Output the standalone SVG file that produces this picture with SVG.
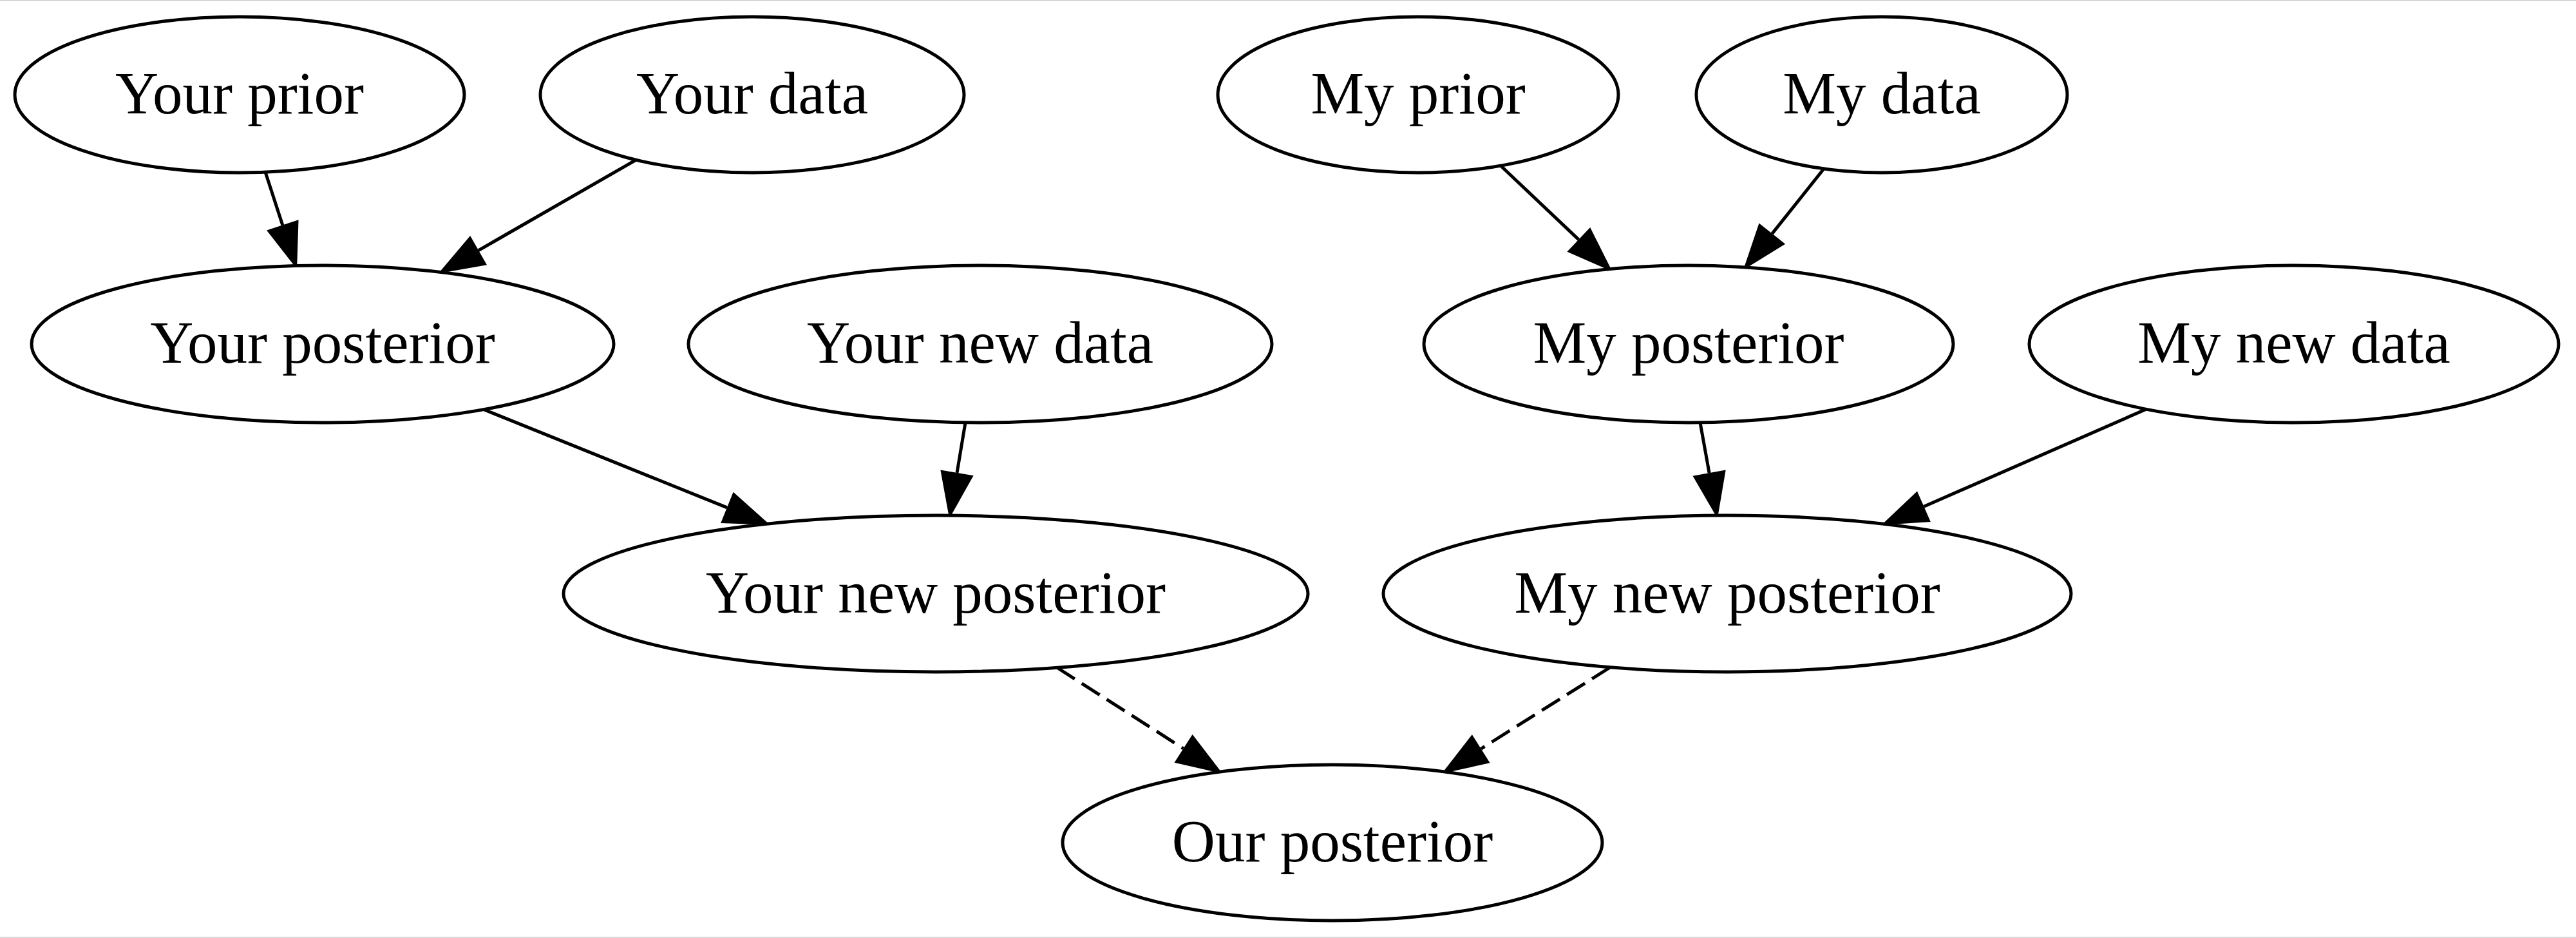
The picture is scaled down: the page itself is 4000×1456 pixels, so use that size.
<svg xmlns="http://www.w3.org/2000/svg" width="4000" height="1456" viewBox="0 0 4000 1456">
<style>
.node ellipse{fill:#fff;stroke:#000;stroke-width:5}
.node text{font-family:"Liberation Serif","Times New Roman",serif;font-size:93px;fill:#000;text-anchor:middle}
.edge{fill:none;stroke:#000;stroke-width:5}
.dashed{stroke-dasharray:33 13}
</style>
<defs>
<marker id="arrow" markerUnits="userSpaceOnUse" orient="auto" refX="0" refY="0" markerWidth="80" markerHeight="60" overflow="visible">
<polygon points="0,-26 72,0 0,26" fill="#000"/>
</marker>
</defs>
<rect x="0" y="0" width="4000" height="1456" fill="#fff"/>
<line x1="0" y1="0.5" x2="4000" y2="0.5" stroke="#cccccc" stroke-width="1.5"/>
<line x1="0" y1="1455" x2="4000" y2="1455" stroke="#cccccc" stroke-width="1.5"/>
<g id="edges">
<path class="edge" d="M412,267 L438.8,349.4" marker-end="url(#arrow)"/>
<path class="edge" d="M988,248 L743.1,388.6" marker-end="url(#arrow)"/>
<path class="edge" d="M752,636 L1128.9,787.9" marker-end="url(#arrow)"/>
<path class="edge" d="M1499,656 L1486,733.9" marker-end="url(#arrow)"/>
<path class="edge" d="M2330,257 L2451.3,371.9" marker-end="url(#arrow)"/>
<path class="edge" d="M2832,262 L2751.8,362.6" marker-end="url(#arrow)"/>
<path class="edge" d="M2640,656 L2654.1,734.1" marker-end="url(#arrow)"/>
<path class="edge" d="M3333,635 L2987.4,786.2" marker-end="url(#arrow)"/>
<path class="edge dashed" d="M1641,1036 L1837.6,1161.9" marker-end="url(#arrow)"/>
<path class="edge dashed" d="M2500,1036 L2299.7,1162.3" marker-end="url(#arrow)"/>
</g>
<g id="your_prior" class="node"><ellipse cx="372" cy="147" rx="349" ry="121"/><text x="372" y="176">Your prior</text></g>
<g id="your_data" class="node"><ellipse cx="1168" cy="147" rx="329" ry="121"/><text x="1168" y="176">Your data</text></g>
<g id="my_prior" class="node"><ellipse cx="2202" cy="147" rx="311" ry="121"/><text x="2202" y="176">My prior</text></g>
<g id="my_data" class="node"><ellipse cx="2922" cy="147" rx="288" ry="121"/><text x="2922" y="176">My data</text></g>
<g id="your_posterior" class="node"><ellipse cx="501" cy="534" rx="452" ry="122"/><text x="501" y="563">Your posterior</text></g>
<g id="your_new_data" class="node"><ellipse cx="1522" cy="534" rx="453" ry="122"/><text x="1522" y="563">Your new data</text></g>
<g id="my_posterior" class="node"><ellipse cx="2622" cy="534" rx="411" ry="122"/><text x="2622" y="563">My posterior</text></g>
<g id="my_new_data" class="node"><ellipse cx="3562" cy="534" rx="411" ry="122"/><text x="3562" y="563">My new data</text></g>
<g id="your_new_posterior" class="node"><ellipse cx="1453" cy="921.5" rx="578" ry="121.5"/><text x="1453" y="950.5">Your new posterior</text></g>
<g id="my_new_posterior" class="node"><ellipse cx="2682" cy="921.5" rx="534" ry="121.5"/><text x="2682" y="950.5">My new posterior</text></g>
<g id="our_posterior" class="node"><ellipse cx="2069" cy="1308" rx="419" ry="121"/><text x="2069" y="1337">Our posterior</text></g>
</svg>
